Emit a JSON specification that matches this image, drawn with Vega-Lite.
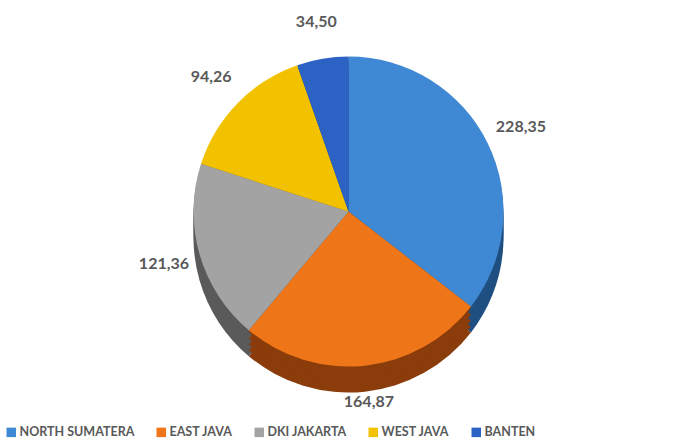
{
  "$schema": "https://vega.github.io/schema/vega-lite/v6.json",
  "width": 697,
  "height": 444,
  "autosize": {"type": "fit", "contains": "padding"},
  "background": "white",
  "data": {"values": [
    {"region": "NORTH SUMATERA", "value": 228.35, "label": "228,35", "order": 1},
    {"region": "EAST JAVA", "value": 164.87, "label": "164,87", "order": 2},
    {"region": "DKI JAKARTA", "value": 121.36, "label": "121,36", "order": 3},
    {"region": "WEST JAVA", "value": 94.26, "label": "94,26", "order": 4},
    {"region": "BANTEN", "value": 34.50, "label": "34,50", "order": 5}
  ]},
  "encoding": {
    "theta": {"field": "value", "type": "quantitative", "stack": true},
    "order": {"field": "order", "type": "quantitative"}
  },
  "layer": [
    {"mark": {"type": "arc", "outerRadius": 155, "yOffset": 26},
     "encoding": {"color": {"field": "region", "type": "nominal", "legend": null,
       "scale": {"domain": ["NORTH SUMATERA", "EAST JAVA", "DKI JAKARTA", "WEST JAVA", "BANTEN"],
                 "range": ["#1f4f80", "#8a3c0a", "#5a5a5a", "#8a6a00", "#163a80"]}}}},
    {"mark": {"type": "arc", "outerRadius": 155, "yOffset": 20},
     "encoding": {"color": {"field": "region", "type": "nominal", "legend": null,
       "scale": {"domain": ["NORTH SUMATERA", "EAST JAVA", "DKI JAKARTA", "WEST JAVA", "BANTEN"],
                 "range": ["#1f4f80", "#8a3c0a", "#5a5a5a", "#8a6a00", "#163a80"]}}}},
    {"mark": {"type": "arc", "outerRadius": 155, "yOffset": 14},
     "encoding": {"color": {"field": "region", "type": "nominal", "legend": null,
       "scale": {"domain": ["NORTH SUMATERA", "EAST JAVA", "DKI JAKARTA", "WEST JAVA", "BANTEN"],
                 "range": ["#1f4f80", "#8a3c0a", "#5a5a5a", "#8a6a00", "#163a80"]}}}},
    {"mark": {"type": "arc", "outerRadius": 155, "yOffset": 8},
     "encoding": {"color": {"field": "region", "type": "nominal", "legend": null,
       "scale": {"domain": ["NORTH SUMATERA", "EAST JAVA", "DKI JAKARTA", "WEST JAVA", "BANTEN"],
                 "range": ["#1f4f80", "#8a3c0a", "#5a5a5a", "#8a6a00", "#163a80"]}}}},
    {"mark": {"type": "arc", "outerRadius": 155, "yOffset": 2},
     "encoding": {"color": {"field": "region", "type": "nominal", "legend": null,
       "scale": {"domain": ["NORTH SUMATERA", "EAST JAVA", "DKI JAKARTA", "WEST JAVA", "BANTEN"],
                 "range": ["#1f4f80", "#8a3c0a", "#5a5a5a", "#8a6a00", "#163a80"]}}}},
    {"mark": {"type": "arc", "outerRadius": 155},
     "encoding": {"color": {"field": "region", "type": "nominal",
       "scale": {"domain": ["NORTH SUMATERA", "EAST JAVA", "DKI JAKARTA", "WEST JAVA", "BANTEN"],
                 "range": ["#3f88d4", "#ee7518", "#a3a3a3", "#f2c200", "#2b62c4"]},
       "sort": {"field": "order"},
       "legend": {"orient": "bottom", "direction": "horizontal", "title": null,
                  "symbolType": "square", "symbolSize": 90, "symbolStrokeWidth": 0,
                  "labelFont": "Lato", "labelFontWeight": "bold",
                  "labelFontSize": 12.5, "labelColor": "#595959", "columnPadding": 20,
                  "labelOffset": 2, "offset": 8}}}},
    {"mark": {"type": "text", "radius": 192, "font": "Lato", "fontWeight": "bold",
              "fontSize": 16, "fill": "#595959"},
     "encoding": {"text": {"field": "label", "type": "nominal"}}}
  ],
  "resolve": {"scale": {"color": "independent"}},
  "config": {"view": {"stroke": null}}
}
